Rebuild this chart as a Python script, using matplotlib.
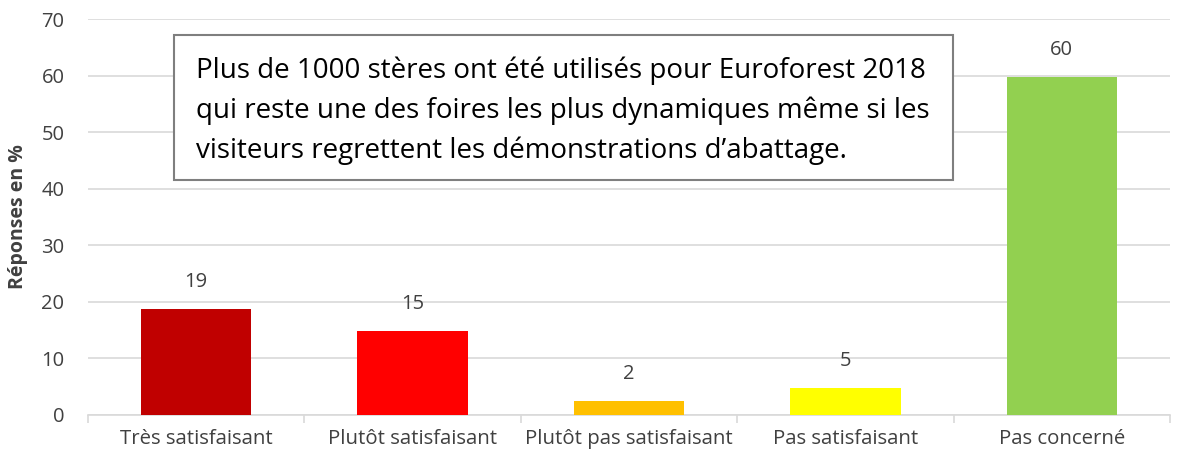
import matplotlib
matplotlib.use('Agg')
import matplotlib.pyplot as plt
from matplotlib.patches import Rectangle

categories = ['Très satisfaisant', 'Plutôt satisfaisant', 'Plutôt pas satisfaisant',
              'Pas satisfaisant', 'Pas concerné']
values = [18.7, 14.8, 2.5, 4.8, 59.8]
labels = ['19', '15', '2', '5', '60']
colors = ['#C00000', '#FF0000', '#FFC000', '#FFFF00', '#92D050']
note = ("Plus de 1000 stères ont été utilisés pour Euroforest 2018\n"
        "qui reste une des foires les plus dynamiques même si les\n"
        "visiteurs regrettent les démonstrations d’abattage.")

plt.rcParams['font.family'] = ['Open Sans', 'DejaVu Sans']

fig = plt.figure(figsize=(11.92, 4.59), dpi=100)
ax = fig.add_axes([88 / 1192, 1 - 415 / 459, (1170 - 88) / 1192, (415 - 19) / 459])

x = range(len(categories))
bars = ax.bar(x, values, width=0.51, color=colors, zorder=3)
for b, lab in zip(bars, labels):
    ax.text(b.get_x() + b.get_width() / 2, b.get_height() + 3, lab,
            ha='center', va='bottom', fontsize=14.5, color='#404040')

ax.set_xlim(-0.5, len(categories) - 0.5)
ax.set_ylim(0, 70)
ax.set_yticks(range(0, 71, 10))
ax.yaxis.grid(True, color='#D9D9D9', linewidth=1.2, zorder=0)
ax.set_xticks(list(x))
ax.set_xticklabels(categories, fontsize=14.7, color='#404040')
ax.tick_params(axis='x', length=0, pad=10)
ax.tick_params(axis='y', length=0, labelsize=14.5, labelcolor='#404040', pad=17)
# category separators below the axis
ax.set_xticks([i + 0.5 for i in range(-1, len(categories))], minor=True)
ax.tick_params(axis='x', which='minor', length=6, color='#D9D9D9', width=1.2)
for s in ['top', 'right', 'left']:
    ax.spines[s].set_visible(False)
ax.spines['bottom'].set_color('#D9D9D9')
ax.spines['bottom'].set_linewidth(1.2)

fig.text(18 / 1192, 1 - 217 / 459, 'Réponses en %', rotation=90, ha='center', va='center',
         fontsize=14, fontweight='bold', color='#404040')

# note box
box = Rectangle((174 / 1192, 1 - 180 / 459), (953 - 174) / 1192, (180 - 35) / 459,
                transform=fig.transFigure, facecolor='white', edgecolor='#7F7F7F',
                linewidth=1.5, zorder=5)
fig.patches.append(box)
fig.text(196 / 1192, 1 - 111 / 459, note, ha='left', va='center', fontsize=20,
         color='black', linespacing=1.53, zorder=6)

fig.savefig('out.png', dpi=100)
